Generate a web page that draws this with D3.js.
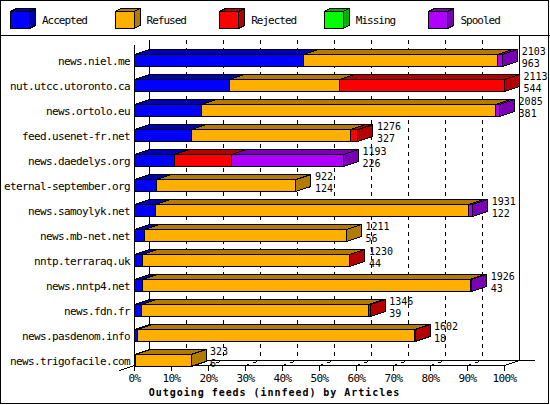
<!DOCTYPE html>
<html><head><meta charset="utf-8">
<script src="https://cdn.jsdelivr.net/npm/d3@7"></script>
<style>
html,body{margin:0;padding:0;background:#fff;}
text{font-family:"DejaVu Sans Mono",monospace;}
</style></head>
<body>
<script>
const names = ["news.niel.me","nut.utcc.utoronto.ca","news.ortolo.eu","feed.usenet-fr.net","news.daedelys.org","eternal-september.org","news.samoylyk.net","news.mb-net.net","nntp.terraraq.uk","news.nntp4.net","news.fdn.fr","news.pasdenom.info","news.trigofacile.com"];
const totals   = [2103, 2113, 2085, 1276, 1193, 922, 1931, 1211, 1230, 1926, 1346, 1602, 323];
const accepted = [963, 544, 381, 327, 226, 124, 122, 56, 44, 43, 39, 18, 6];
const refused  = [1112, 628, 1683, 905, 0, 798, 1784, 1155, 1184, 1873, 1299, 1580, 317];
const rejected = [0, 941, 0, 44, 328, 0, 0, 0, 2, 0, 8, 4, 0];
const missing  = [0, 0, 0, 0, 0, 0, 0, 0, 0, 0, 0, 0, 0];
const spooled  = [28, 0, 21, 0, 639, 0, 25, 0, 0, 10, 0, 0, 0];
const seriesNames = ["Accepted","Refused","Rejected","Missing","Spooled"];
const seriesValues = [accepted, refused, rejected, missing, spooled];
const pctTicks = [0,10,20,30,40,50,60,70,80,90,100];
const title = "Outgoing feeds (innfeed) by Articles";

const front = ["#0000ff","#ffaf00","#ff0000","#00ff00","#af00ff"];
const dark  = ["#0000b3","#b37a00","#b30000","#00b300","#7a00b3"];

const W=550,H=405, dx=15, dy=5;
const svg = d3.select("body").append("svg").attr("width",W).attr("height",H);
svg.append("rect").attr("x",0.5).attr("y",0.5).attr("width",W-2).attr("height",H-2).attr("fill","#fff").attr("stroke","#000");
svg.append("line").attr("x1",0).attr("x2",W).attr("y1",35.5).attr("y2",35.5).attr("stroke","#000");

// legend
const leg = svg.append("g").attr("shape-rendering","crispEdges");
seriesNames.forEach((s,i)=>{
  const x0 = 10.5 + i*104.5, y0 = 11.5, w=19, h=17, ldx=6, ldy=3;
  leg.append("polygon").attr("points",[[x0,y0],[x0+ldx,y0-ldy],[x0+w+ldx,y0-ldy],[x0+w,y0]].join(" ")).attr("fill",dark[i]).attr("stroke","#000");
  leg.append("polygon").attr("points",[[x0+w,y0],[x0+w+ldx,y0-ldy],[x0+w+ldx,y0+h-ldy],[x0+w,y0+h]].join(" ")).attr("fill",dark[i]).attr("stroke","#000");
  leg.append("rect").attr("x",x0).attr("y",y0).attr("width",w).attr("height",h).attr("fill",front[i]).attr("stroke","#000");
  leg.append("text").attr("x",42+i*104.6).attr("y",24).attr("font-size",11).attr("letter-spacing",-1.0).text(s);
});

const maxTotal = d3.max(totals);
const x = d3.scaleLinear().domain([0,maxTotal]).range([134.5,504.5]);
const xp = d3.scaleLinear().domain([0,100]).range([134.5,504.5]);
const y = d3.scaleBand().domain(names).range([47,372]).paddingInner(0.52).paddingOuter(0.26);
const floorY = 365.5;

const g = svg.append("g").attr("shape-rendering","crispEdges");
// back walls
g.append("line").attr("x1",xp(0)+dx).attr("x2",xp(0)+dx).attr("y1",40).attr("y2",floorY-dy).attr("stroke","#000");
g.append("line").attr("x1",xp(100)+dx).attr("x2",xp(100)+dx).attr("y1",35).attr("y2",floorY-dy).attr("stroke","#000");
// gridlines dashed
pctTicks.filter(t=>t>0&&t<100).forEach(t=>{
  g.append("line").attr("x1",xp(t)+dx).attr("x2",xp(t)+dx).attr("y1",40).attr("y2",floorY-dy)
   .attr("stroke","#000").attr("stroke-dasharray","4,4");
});
// floor
g.append("line").attr("x1",xp(0)+dx).attr("x2",535).attr("y1",floorY-dy).attr("y2",floorY-dy).attr("stroke","#000");
g.append("line").attr("x1",xp(0)).attr("x2",xp(100)).attr("y1",floorY).attr("y2",floorY).attr("stroke","#000");
g.append("line").attr("x1",xp(0)+dx).attr("y1",floorY-dy).attr("x2",119).attr("y2",floorY+dy*(xp(0)+dx-119)/dx - dy).attr("stroke","#000");
g.append("line").attr("x1",xp(100)).attr("y1",floorY).attr("x2",xp(100)+dx).attr("y2",floorY-dy).attr("stroke","#000");
g.append("line").attr("x1",xp(0)).attr("x2",xp(0)).attr("y1",45).attr("y2",floorY).attr("stroke","#000");
pctTicks.forEach(t=>{
  g.append("line").attr("x1",xp(t)).attr("x2",xp(t)).attr("y1",floorY).attr("y2",floorY+5).attr("stroke","#000");
  if(t>0&&t<100) g.append("line").attr("x1",xp(t)).attr("y1",floorY).attr("x2",xp(t)+dx).attr("y2",floorY-dy).attr("stroke","#000").attr("stroke-dasharray","4,4");
  svg.append("text").attr("x",xp(t)).attr("y",382).attr("text-anchor","middle").attr("font-size",11).attr("letter-spacing",-0.6).text(t+"%");
});

// bars
names.forEach((n,r)=>{
  const top = Math.round(y(n))+0.5, bot = top + Math.round(y.bandwidth());
  let cum = 0;
  seriesValues.forEach((vals,si)=>{
    const v = vals[r];
    if(!v) return;
    const x0 = x(cum), x1 = x(cum+v);
    cum += v;
    g.append("polygon").attr("points",[[x0,top],[x0+dx,top-dy],[x1+dx,top-dy],[x1,top]].join(" ")).attr("fill",dark[si]).attr("stroke","#000");
    g.append("polygon").attr("points",[[x1,top],[x1+dx,top-dy],[x1+dx,bot-dy],[x1,bot]].join(" ")).attr("fill",dark[si]).attr("stroke","#000");
    g.append("rect").attr("x",x0).attr("y",top).attr("width",x1-x0).attr("height",bot-top).attr("fill",front[si]).attr("stroke","#000");
  });
  svg.append("text").attr("x",130).attr("y",top+10).attr("text-anchor","end").attr("font-size",11).attr("letter-spacing",-0.62).text(n);
  const tx = x(totals[r]) + dx + 4;
  svg.append("text").attr("x",tx).attr("y",top+0.5).attr("font-size",10).text(totals[r]);
  svg.append("text").attr("x",tx).attr("y",top+12).attr("font-size",10).text(accepted[r]);
});

svg.append("text").attr("x",274.5).attr("y",395.5).attr("text-anchor","middle").attr("font-size",10).attr("font-weight","bold").attr("letter-spacing",0.96).text(title);
</script>
</body></html>
